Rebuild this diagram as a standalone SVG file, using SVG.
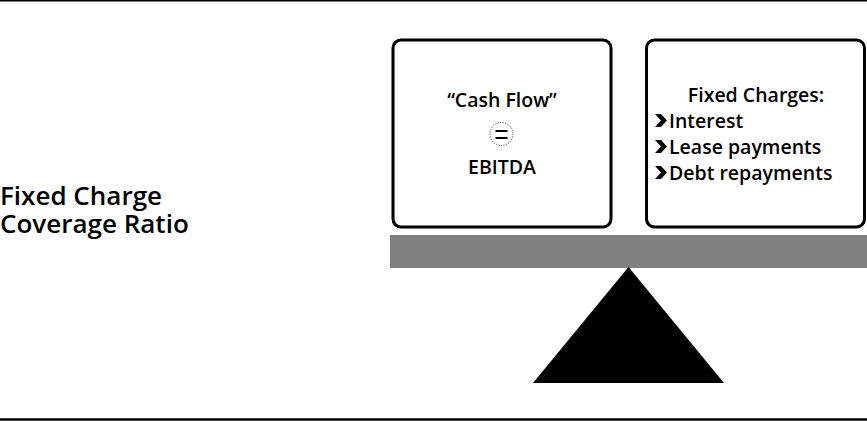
<svg xmlns="http://www.w3.org/2000/svg" width="867" height="421" viewBox="0 0 867 421">
  <style>
    .box { fill: #fff; stroke: #000; stroke-width: 3; }
    .t { font-family: "Open Sans", "Noto Sans", sans-serif; font-weight: 600; fill: #000; }
    .mid { text-anchor: middle; }
  </style>
  <defs>
    <polygon id="chev" points="0,0 6,0 12,6.5 6,13 0,13 6,6.5"/>
  </defs>
  <rect width="867" height="421" fill="#fff"/>

  <!-- frame rules -->
  <line x1="0" y1="0.75" x2="867" y2="0.75" stroke="#000" stroke-width="1.5"/>
  <line x1="0" y1="419.5" x2="867" y2="419.5" stroke="#000" stroke-width="2.5"/>

  <!-- title -->
  <g id="title">
    <text class="t" font-size="26"><tspan x="0" y="205">Fixed Charge</tspan><tspan x="0" y="233">Coverage Ratio</tspan></text>
  </g>

  <!-- left pan: cash flow -->
  <g id="cash-flow">
    <rect class="box" x="393" y="40" width="218" height="187" rx="8"/>
    <text class="t mid" x="502" y="107" font-size="19.5">“Cash Flow”</text>
    <circle cx="501.5" cy="134" r="11.5" fill="none" stroke="#000" stroke-width="0.8" stroke-dasharray="1 1.5"/>
    <rect x="495.5" y="130" width="12" height="2" fill="#000"/>
    <rect x="495.5" y="137" width="12" height="2" fill="#000"/>
    <text class="t mid" x="502" y="174" font-size="19.5">EBITDA</text>
  </g>

  <!-- right pan: fixed charges -->
  <g id="fixed-charges">
    <rect class="box" x="646.5" y="40" width="218" height="187" rx="8"/>
    <text class="t mid" x="756" y="102" font-size="19.5">Fixed Charges:</text>
    <use href="#chev" x="655" y="114"/>
    <text class="t" x="669" y="128" font-size="19.5">Interest</text>
    <use href="#chev" x="655" y="140"/>
    <text class="t" x="669" y="154" font-size="19.5">Lease payments</text>
    <use href="#chev" x="655" y="166"/>
    <text class="t" x="669" y="180" font-size="19.5">Debt repayments</text>
  </g>

  <!-- balance beam and fulcrum -->
  <g id="beam">
    <rect x="390" y="235" width="477" height="33" fill="#808080"/>
  </g>
  <g id="fulcrum">
    <polygon points="628.5,267 533,383 724,383" fill="#000"/>
  </g>
</svg>
